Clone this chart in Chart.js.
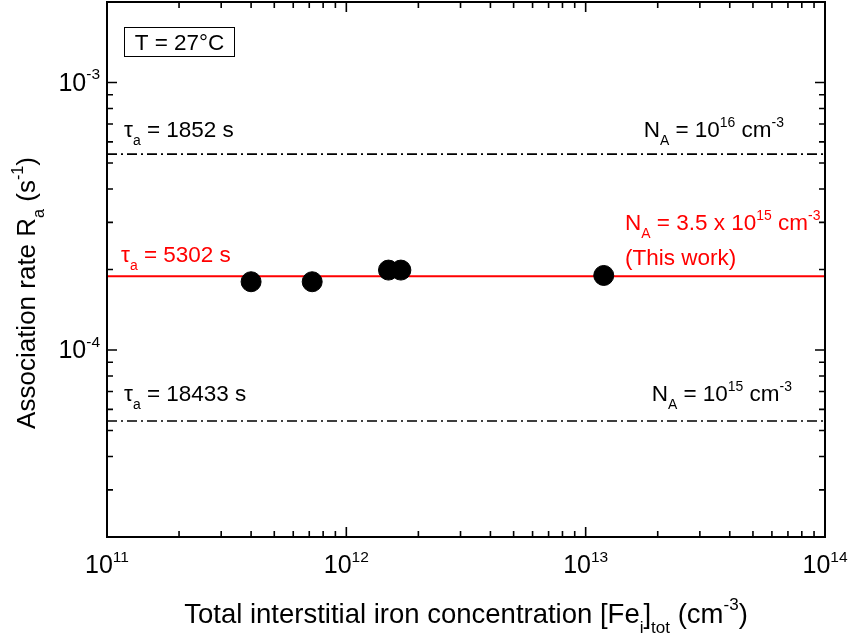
<!DOCTYPE html>
<html>
<head>
<meta charset="utf-8">
<script src="https://cdn.jsdelivr.net/npm/chart.js@4.4.1/dist/chart.umd.min.js"></script>
<style>
  html, body { margin: 0; padding: 0; background: #fff; }
  #wrap { width: 848px; height: 637px; }
</style>
</head>
<body>
<div id="wrap"><canvas id="chart"></canvas></div>
<script>
// measured points
const ironConc = [4.0e11, 7.2e11, 1.5e12, 1.69e12, 1.19e13]
const assocRate = [1.80e-4, 1.80e-4, 1.99e-4, 1.99e-4, 1.90e-4]

// reference lines: tau = 1852 s, 5302 s, 18433 s
const refRates = [5.40e-4, 1.886e-4, 5.425e-5]
const refColors = ['#000000', '#ff0000', '#000000']

const xRange = [1e11, 1e14]
const yRange = [2e-5, 2e-3]
const xDecades = [1e11, 1e12, 1e13, 1e14]
const yDecades = [1e-5, 1e-4, 1e-3]
const xTickLabels = ['10^{11}', '10^{12}', '10^{13}', '10^{14}']
const yTickLabels = ['', '10^{-4}', '10^{-3}']

const FONT = "'Liberation Sans', Arial, sans-serif"

// '10^{16}' / 'τ_{a}' -> parts
const parse = (str) => {
  const parts = []
  const re = /([\^_])\{([^}]*)\}|([^\^_]+)/g
  let m
  while ((m = re.exec(str))) {
    if (m[3]) parts.push({ t: m[3], k: '' })
    else parts.push({ t: m[2], k: m[1] === '^' ? 'sup' : 'sub' })
  }
  return parts
}

const partSize = (p, size) => (p.k ? size * 0.62 : size)

const richWidth = (ctx, parts, size) =>
  parts.reduce((w, p) => {
    ctx.font = `${partSize(p, size)}px ${FONT}`
    return w + ctx.measureText(p.t).width
  }, 0)

const drawRich = (ctx, str, x, y, size, align = 'left', color = '#000') => {
  const parts = parse(str)
  const w = richWidth(ctx, parts, size)
  let cx = align === 'center' ? x - w / 2 : align === 'right' ? x - w : x
  ctx.fillStyle = color
  ctx.textAlign = 'left'
  ctx.textBaseline = 'alphabetic'
  parts.forEach((p) => {
    ctx.font = `${partSize(p, size)}px ${FONT}`
    const dy = p.k === 'sup' ? -size * 0.46 : p.k === 'sub' ? size * 0.36 : 0
    ctx.fillText(p.t, cx, y + dy)
    cx += ctx.measureText(p.t).width
  })
}

const framePlugin = {
  id: 'frame',
  afterDraw(chart) {
    const { ctx, chartArea: a, scales } = chart
    const xs = scales.x
    const ys = scales.y
    ctx.save()

    // frame
    ctx.strokeStyle = '#000'
    ctx.lineWidth = 2
    ctx.strokeRect(a.left, a.top, a.right - a.left, a.bottom - a.top)

    // inward ticks on all four sides
    ctx.lineWidth = 1.6
    ctx.beginPath()
    xDecades.forEach((d) => {
      for (let m = 1; m <= 9; m++) {
        const v = d * m
        if (v <= xRange[0] * 1.001 || v >= xRange[1] * 0.999) continue
        const px = xs.getPixelForValue(v)
        const len = m === 1 ? 10 : 6
        ctx.moveTo(px, a.bottom); ctx.lineTo(px, a.bottom - len)
        ctx.moveTo(px, a.top); ctx.lineTo(px, a.top + len)
      }
    })
    yDecades.forEach((d) => {
      for (let m = 1; m <= 9; m++) {
        const v = d * m
        if (v <= yRange[0] * 1.001 || v >= yRange[1] * 0.999) continue
        const py = ys.getPixelForValue(v)
        const len = m === 1 ? 10 : 6
        ctx.moveTo(a.left, py); ctx.lineTo(a.left + len, py)
        ctx.moveTo(a.right, py); ctx.lineTo(a.right - len, py)
      }
    })
    ctx.stroke()

    // tick labels
    xDecades.forEach((d, i) => {
      drawRich(ctx, xTickLabels[i], xs.getPixelForValue(d), a.bottom + 36, 25, 'center')
    })
    yDecades.forEach((d, i) => {
      if (!yTickLabels[i]) return
      drawRich(ctx, yTickLabels[i], a.left - 7, ys.getPixelForValue(d) + 8, 25, 'right')
    })

    // axis titles
    drawRich(ctx, 'Total interstitial iron concentration [Fe_{i}]_{tot} (cm^{-3})',
      (a.left + a.right) / 2, 623, 27.5, 'center')
    ctx.save()
    ctx.translate(35, 293)
    ctx.rotate(-Math.PI / 2)
    drawRich(ctx, 'Association rate R_{a} (s^{-1})', 0, 0, 26, 'center')
    ctx.restore()

    // annotations
    ctx.lineWidth = 1
    ctx.strokeStyle = '#000'
    ctx.strokeRect(124.5, 27.5, 110, 29)
    drawRich(ctx, 'T = 27°C', 179.5, 50, 22.5, 'center')

    drawRich(ctx, 'τ_{a} = 1852 s', 124, 137, 22.5)
    drawRich(ctx, 'N_{A} = 10^{16} cm^{-3}', 784, 137, 22.5, 'right')

    drawRich(ctx, 'τ_{a} = 5302 s', 121, 262, 22.5, 'left', '#ff0000')
    drawRich(ctx, 'N_{A} = 3.5 x 10^{15} cm^{-3}', 625, 230, 22.5, 'left', '#ff0000')
    drawRich(ctx, '(This work)', 625, 265, 22.5, 'left', '#ff0000')

    drawRich(ctx, 'τ_{a} = 18433 s', 124, 401, 22.5)
    drawRich(ctx, 'N_{A} = 10^{15} cm^{-3}', 792, 401, 22.5, 'right')

    ctx.restore()
  },
}

const refDatasets = refRates.map((r, i) => ({
  type: 'line',
  data: [{ x: xRange[0], y: r }, { x: xRange[1], y: r }],
  borderColor: refColors[i],
  borderWidth: i === 1 ? 2 : 1.6,
  borderDash: i === 1 ? [] : [10, 4, 2, 4],
  pointRadius: 0,
  fill: false,
}))

new Chart(document.getElementById('chart'), {
  type: 'scatter',
  data: {
    datasets: [
      {
        data: ironConc.map((x, i) => ({ x, y: assocRate[i] })),
        backgroundColor: '#000',
        borderColor: '#000',
        pointRadius: 10,
        pointBorderWidth: 1,
      },
      ...refDatasets,
    ],
  },
  options: {
    responsive: true,
    maintainAspectRatio: false,
    animation: false,
    layout: { autoPadding: false, padding: { top: 2, right: 23, left: 0, bottom: 0 } },
    plugins: { legend: { display: false }, tooltip: { enabled: false } },
    scales: {
      x: {
        type: 'logarithmic',
        min: xRange[0],
        max: xRange[1],
        grid: { display: false },
        border: { display: false },
        ticks: { display: false },
        afterFit: (s) => { s.height = 100 },
      },
      y: {
        type: 'logarithmic',
        min: yRange[0],
        max: yRange[1],
        grid: { display: false },
        border: { display: false },
        ticks: { display: false },
        afterFit: (s) => { s.width = 107 },
      },
    },
  },
  plugins: [framePlugin],
})
</script>
</body>
</html>
